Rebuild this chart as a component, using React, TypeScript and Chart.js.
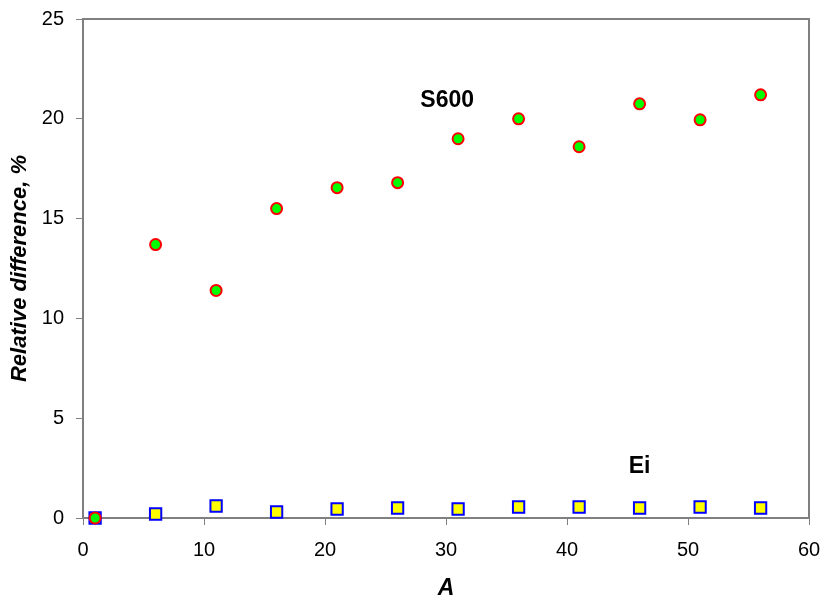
import React, { useEffect, useRef } from "react";
import { Chart, registerables } from "chart.js";

Chart.register(...registerables);

const xValues = [1, 6, 11, 16, 21, 26, 31, 36, 41, 46, 51, 56];
const s600Values = [0, 13.7, 11.4, 15.5, 16.55, 16.8, 19.0, 20.0, 18.6, 20.75, 19.95, 21.2];
const eiValues = [0, 0.2, 0.6, 0.3, 0.45, 0.5, 0.45, 0.55, 0.55, 0.5, 0.55, 0.5];
const seriesNames = ["S600", "Ei"];
const labelX = [30.1, 46.0];
const labelY = [20.9, 2.55];

const FONT = "'Liberation Sans', Arial, sans-serif";

const framePlugin = {
  id: "frame",
  beforeDatasetsDraw(chart: any) {
    const { ctx, chartArea } = chart;
    ctx.save();
    ctx.strokeStyle = "#808080";
    ctx.lineWidth = 2;
    ctx.strokeRect(chartArea.left, chartArea.top, chartArea.right - chartArea.left, chartArea.bottom - chartArea.top);
    ctx.restore();
  },
};

const labelPlugin = {
  id: "seriesLabels",
  afterDatasetsDraw(chart: any) {
    const { ctx, scales } = chart;
    ctx.save();
    ctx.fillStyle = "#000";
    ctx.font = `bold 23px ${FONT}`;
    ctx.textAlign = "center";
    ctx.textBaseline = "middle";
    seriesNames.forEach((n, i) => {
      ctx.fillText(n, scales.x.getPixelForValue(labelX[i]), scales.y.getPixelForValue(labelY[i]));
    });
    ctx.restore();
  },
};

export default function App() {
  const ref = useRef<HTMLCanvasElement>(null);
  useEffect(() => {
    if (!ref.current) return;
    const chart = new Chart(ref.current, {
      type: "scatter",
      data: {
        datasets: [
          {
            label: seriesNames[0],
            data: xValues.map((x, i) => ({ x, y: s600Values[i] })),
            pointStyle: "circle",
            pointRadius: 5.5,
            pointBorderWidth: 2,
            pointBackgroundColor: "#00ff00",
            pointBorderColor: "#ff0000",
            clip: false,
          },
          {
            label: seriesNames[1],
            data: xValues.map((x, i) => ({ x, y: eiValues[i] })),
            pointStyle: "rect",
            pointRadius: 8,
            pointBorderWidth: 2,
            pointBackgroundColor: "#ffff00",
            pointBorderColor: "#0000ff",
            clip: false,
          },
        ],
      },
      options: {
        animation: false,
        responsive: false,
        layout: { padding: { top: 19, right: 21, left: 0, bottom: 0 } },
        plugins: { legend: { display: false }, tooltip: { enabled: false } },
        scales: {
          x: {
            type: "linear",
            min: 0,
            max: 60,
            ticks: { stepSize: 10, color: "#000", font: { family: FONT, size: 20 }, padding: 13 },
            grid: { display: true, drawOnChartArea: false, drawTicks: true, tickLength: 7, color: "#808080", lineWidth: 1 },
            border: { display: true, color: "#808080", width: 2 },
            title: {
              display: true,
              text: "A",
              color: "#000",
              font: { family: FONT, size: 23, weight: "bold", style: "italic" },
              padding: { top: 0, bottom: 9 },
            },
            afterFit(scale: any) {
              scale.height = 93;
              scale.paddingLeft = 0;
              scale.paddingRight = 0;
            },
          },
          y: {
            type: "linear",
            min: 0,
            max: 25,
            ticks: { stepSize: 5, color: "#000", font: { family: FONT, size: 20 }, padding: 12 },
            grid: { display: true, drawOnChartArea: false, drawTicks: true, tickLength: 7, color: "#808080", lineWidth: 1 },
            border: { display: true, color: "#808080", width: 2 },
            title: {
              display: true,
              text: "Relative difference, %",
              color: "#000",
              font: { family: FONT, size: 22, weight: "bold", style: "italic" },
              padding: { top: 7, bottom: 0 },
            },
            afterFit(scale: any) {
              scale.width = 83;
              scale.paddingTop = 0;
              scale.paddingBottom = 0;
            },
          },
        },
      },
      plugins: [framePlugin, labelPlugin],
    } as any);
    return () => chart.destroy();
  }, []);
  return (
    <div style={{ position: "fixed", left: 0, top: 0, width: 830, height: 611, background: "#fff" }}>
      <canvas ref={ref} width={830} height={611} />
    </div>
  );
}
